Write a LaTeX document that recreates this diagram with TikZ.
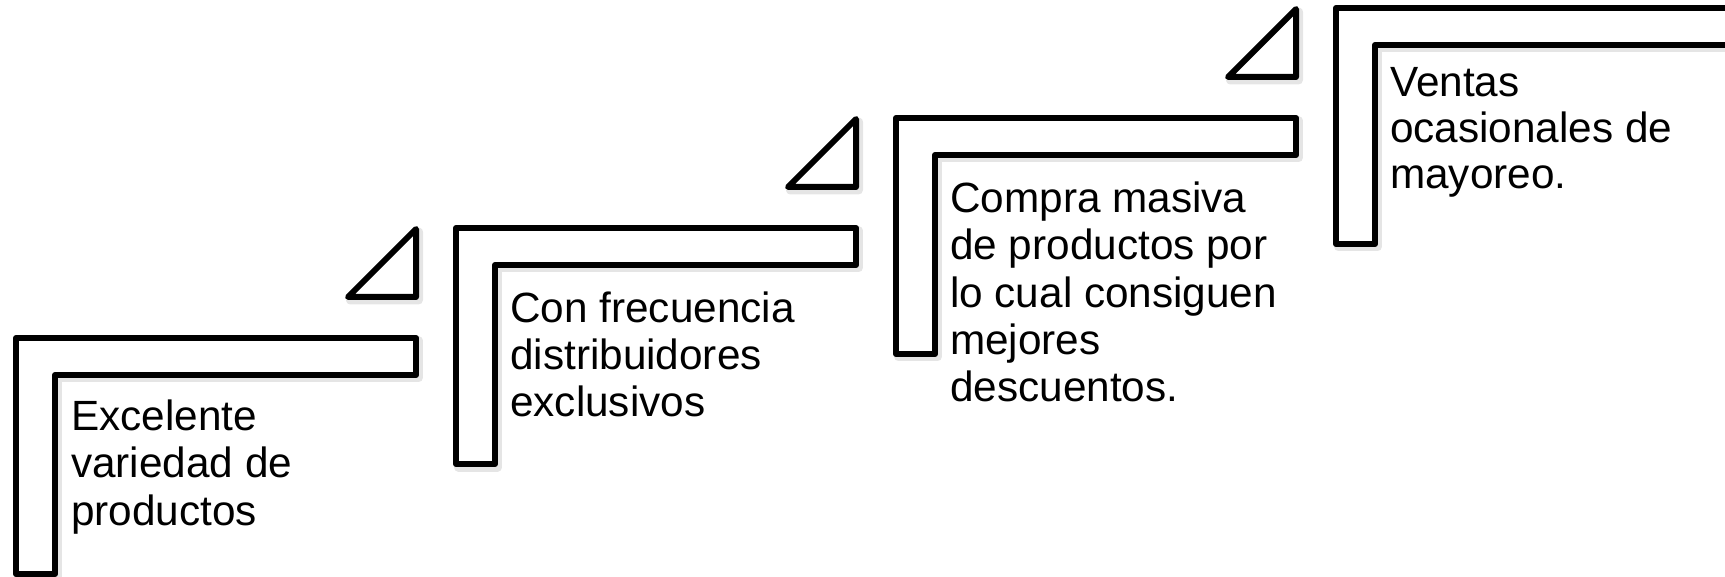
\documentclass[tikz,border=0pt]{standalone}
\usepackage{fontspec}
\setmainfont{Liberation Sans}
\begin{document}
\begin{tikzpicture}[x=1pt,y=-1pt,
  outline/.style={draw=black, line width=6pt, line join=round, fill=white},
  shadowline/.style={draw=black, line width=9pt, line join=round, opacity=0.10},
  steptext/.style={anchor=base west, inner sep=0pt, align=left,
    font=\fontsize{42.3}{47.5}\selectfont}]
\useasboundingbox (0,0) rectangle (1725,577);
% L-shaped step outlines
\foreach \i/\w in {0/400,1/400,2/400,3/430}{
  \begin{scope}[shift={({16+440*\i},{338-110*\i})}]
    \draw[shadowline, shift={(2.5,3)}] (0,0) -- (\w,0) -- (\w,37) -- (39,37) -- (39,236) -- (0,236) -- cycle;
    \draw[outline] (0,0) -- (\w,0) -- (\w,37) -- (39,37) -- (39,236) -- (0,236) -- cycle;
  \end{scope}
}
% triangles
\foreach \i in {0,1,2}{
  \begin{scope}[shift={({16+440*\i},{338-110*\i})}]
    \draw[shadowline, shift={(2.5,3)}] (332,-41) -- (400,-41) -- (400,-109) -- cycle;
    \draw[outline] (332,-41) -- (400,-41) -- (400,-109) -- cycle;
  \end{scope}
}
% texts (anchored at the baseline of the last line)
\node[steptext] (t1) at (71,525) {Excelente\\variedad de\\productos};
\node[steptext] (t2) at (510,417) {Con frecuencia\\distribuidores\\exclusivos};
\node[steptext] (t3) at (950,402) {Compra masiva\\de productos por\\lo cual consiguen\\mejores\\descuentos.};
\node[steptext, font=\fontsize{42.3}{46}\selectfont] (t4) at (1390,189) {Ventas\\ocasionales de\\mayoreo.};
\end{tikzpicture}
\end{document}
